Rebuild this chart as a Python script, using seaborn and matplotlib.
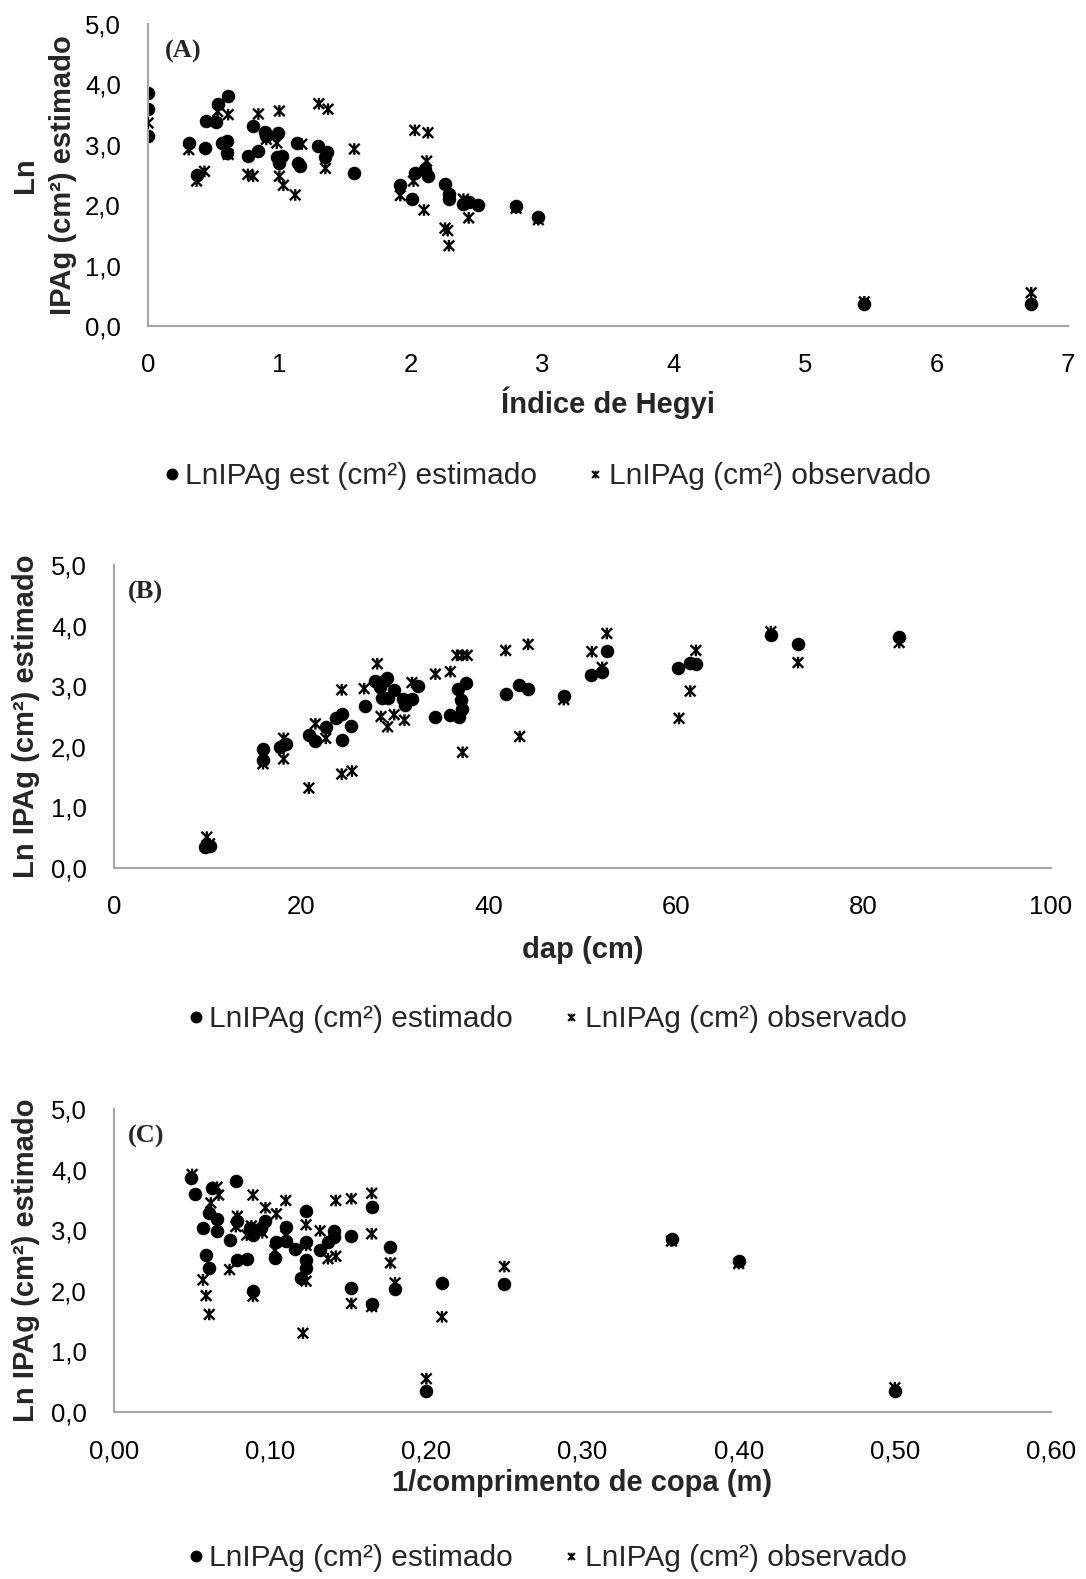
import numpy as np
import pandas as pd
import matplotlib
matplotlib.use("Agg")
import matplotlib.pyplot as plt
from matplotlib.path import Path
from matplotlib.ticker import FixedLocator, FuncFormatter
import seaborn as sns

# ---------------- DATA ----------------
# Panel A: Indice de Hegyi
hegyi_est_x = [0, 0, 0, 0.31, 0.43, 0.37, 0.44, 0.52, 0.53, 0.61, 0.56, 0.60, 0.60,
               0.76, 0.84, 0.80, 0.89, 0.90, 0.99, 0.98, 1.02, 1.00, 1.13, 1.14, 1.16,
               1.29, 1.36, 1.35, 1.57, 1.92, 2.01, 2.03, 2.11, 2.13, 2.26, 2.29, 2.29,
               2.40, 2.44, 2.51, 2.80, 2.97, 5.45, 6.72]
hegyi_est_y = [3.85, 3.59, 3.14, 3.03, 2.95, 2.50, 3.39, 3.37, 3.68, 3.80, 3.03, 3.06, 2.87,
               2.81, 2.90, 3.31, 3.22, 3.14, 3.20, 2.79, 2.81, 2.70, 3.03, 2.70, 2.65,
               2.98, 2.88, 2.79, 2.54, 2.33, 2.10, 2.54, 2.60, 2.48, 2.35, 2.19, 2.11,
               2.02, 2.05, 2.01, 1.98, 1.80, 0.37, 0.37]
hegyi_obs_x = [0, 0.31, 0.37, 0.43, 0.53, 0.61, 0.61, 0.84, 1.00, 0.76, 0.80, 0.90, 0.98,
               1.00, 1.03, 1.12, 1.17, 1.30, 1.37, 1.35, 1.57, 1.92, 2.02, 2.03, 2.13,
               2.12, 2.10, 2.26, 2.28, 2.29, 2.40, 2.44, 2.80, 2.97, 5.45, 6.72]
hegyi_obs_y = [3.36, 2.92, 2.40, 2.56, 3.55, 3.50, 2.84, 3.51, 3.56, 2.51, 2.48, 3.09, 3.03,
               2.48, 2.33, 2.17, 3.01, 3.68, 3.59, 2.61, 2.93, 2.16, 2.40, 3.24, 3.20,
               2.73, 1.92, 1.62, 1.58, 1.33, 2.10, 1.79, 1.95, 1.76, 0.40, 0.55]

# Panel B: dap (cm)
dap_est_x = [9.7, 10.2, 15.9, 15.9, 17.7, 18.4, 20.8, 21.5, 22.6, 23.7, 24.3, 24.3, 25.3,
             26.8, 27.9, 28.4, 28.8, 29.1, 28.6, 29.2, 29.9, 30.8, 31.1, 31.8, 32.4,
             34.3, 35.9, 36.7, 36.8, 37.0, 37.1, 37.6, 41.8, 43.2, 44.2, 48.0, 50.9,
             52.1, 52.6, 60.2, 61.5, 62.1, 70.1, 73.0, 83.8]
dap_est_y = [0.34, 0.36, 1.96, 1.78, 2.00, 2.04, 2.19, 2.09, 2.33, 2.48, 2.54, 2.11, 2.35,
             2.67, 3.09, 2.98, 3.09, 3.13, 2.81, 2.81, 2.94, 2.79, 2.69, 2.79, 3.01,
             2.50, 2.52, 2.96, 2.49, 2.77, 2.63, 3.06, 2.87, 3.02, 2.96, 2.84, 3.18,
             3.24, 3.58, 3.30, 3.38, 3.36, 3.85, 3.69, 3.81]
dap_obs_x = [9.9, 10.2, 15.9, 18.1, 18.1, 20.8, 21.5, 22.6, 24.3, 24.3, 25.4, 26.7, 28.1,
             28.5, 29.2, 29.9, 31.0, 31.8, 34.3, 35.9, 36.6, 37.2, 37.7, 37.2, 41.8,
             44.2, 43.3, 48.0, 51.0, 52.6, 52.1, 60.3, 61.5, 62.1, 70.1, 73.0, 83.8]
dap_obs_y = [0.51, 0.40, 1.72, 2.14, 1.80, 1.32, 2.38, 2.14, 2.94, 1.55, 1.60, 2.96, 3.37,
             2.50, 2.33, 2.53, 2.44, 3.06, 3.20, 3.24, 3.51, 3.51, 3.51, 1.91, 3.59,
             3.69, 2.17, 2.78, 3.57, 3.87, 3.31, 2.47, 2.92, 3.59, 3.90, 3.39, 3.72]

# Panel C: 1/comprimento de copa (m)
copa_est_x = [0.049, 0.052, 0.063, 0.078, 0.061, 0.066, 0.057, 0.066, 0.074, 0.079, 0.087,
              0.089, 0.094, 0.097, 0.104, 0.103, 0.110, 0.110, 0.116, 0.123, 0.123, 0.123,
              0.123, 0.120, 0.132, 0.137, 0.141, 0.141, 0.152, 0.152, 0.165, 0.165, 0.177,
              0.180, 0.059, 0.061, 0.079, 0.085, 0.089, 0.200, 0.210, 0.250, 0.357, 0.400,
              0.500]
copa_est_y = [3.86, 3.60, 3.70, 3.81, 3.28, 3.19, 3.04, 2.99, 2.84, 3.15, 3.03,
              2.92, 3.04, 3.15, 2.81, 2.54, 3.06, 2.83, 2.69, 3.31, 2.81, 2.51,
              2.37, 2.21, 2.67, 2.81, 2.98, 2.88, 2.90, 2.04, 3.39, 1.79, 2.72,
              2.03, 2.59, 2.37, 2.51, 2.53, 1.99, 0.35, 2.13, 2.12, 2.86, 2.50,
              0.35]
copa_obs_x = [0.050, 0.066, 0.067, 0.062, 0.089, 0.097, 0.104, 0.110, 0.079, 0.078, 0.085,
              0.088, 0.095, 0.110, 0.103, 0.123, 0.132, 0.123, 0.142, 0.152, 0.165, 0.165,
              0.137, 0.142, 0.177, 0.180, 0.123, 0.057, 0.059, 0.061, 0.074, 0.121, 0.152,
              0.165, 0.089, 0.200, 0.210, 0.250, 0.357, 0.400, 0.500]
copa_obs_y = [3.92, 3.71, 3.58, 3.45, 3.58, 3.37, 3.27, 3.49, 3.23, 3.06, 2.92,
              3.07, 2.96, 2.91, 2.67, 3.09, 2.99, 2.75, 3.49, 3.52, 3.61, 2.94,
              2.53, 2.57, 2.46, 2.13, 2.16, 2.18, 1.92, 1.61, 2.35, 1.30, 1.79,
              1.74, 1.91, 0.55, 1.57, 2.40, 2.82, 2.45, 0.40]

y_ticks = [0.0, 1.0, 2.0, 3.0, 4.0, 5.0]
hegyi_ticks = [0, 1, 2, 3, 4, 5, 6, 7]
dap_ticks = [0, 20, 40, 60, 80, 100]
copa_ticks = [0.0, 0.1, 0.2, 0.3, 0.4, 0.5, 0.6]

# ---------------- STYLE ----------------
sns.set_theme(style="white")
plt.rcParams['font.family'] = ['Liberation Sans', 'DejaVu Sans']

star_path = Path([(-1, -1), (1, 1), (-1, 1), (1, -1), (0, -1.1), (0, 1.1)],
                 [Path.MOVETO, Path.LINETO, Path.MOVETO, Path.LINETO, Path.MOVETO, Path.LINETO])

W, H = 1086, 1579
fig = plt.figure(figsize=(W / 100, H / 100), dpi=100)

def rect(l, r, t, b):
    return [l / W, 1 - b / H, (r - l) / W, (b - t) / H]

axes_rects = [rect(148, 1068, 24, 326), rect(114, 1051, 565, 868), rect(114, 1051, 1109, 1412)]

panels = [
    dict(ex=hegyi_est_x, ey=hegyi_est_y, ox=hegyi_obs_x, oy=hegyi_obs_y,
         ticks=hegyi_ticks, xlim=(0, 7), fmt=lambda v, p: f"{v:.0f}",
         xlabel="Índice de Hegyi", ylabel="Ln\nIPAg (cm²) estimado", tag="(A)",
         tagpos=(17, 27), xpad=6.5, ypad=6,
         leg1="LnIPAg est (cm²) estimado", leg2="LnIPAg (cm²) observado", legy=476),
    dict(ex=dap_est_x, ey=dap_est_y, ox=dap_obs_x, oy=dap_obs_y,
         ticks=dap_ticks, xlim=(0, 100), fmt=lambda v, p: f"{v:.0f}",
         xlabel="dap (cm)", ylabel="Ln IPAg (cm²) estimado", tag="(B)",
         tagpos=(14, 27), xpad=12, ypad=8,
         leg1="LnIPAg (cm²) estimado", leg2="LnIPAg (cm²) observado", legy=1019),
    dict(ex=copa_est_x, ey=copa_est_y, ox=copa_obs_x, oy=copa_obs_y,
         ticks=copa_ticks, xlim=(0, 0.6), fmt=lambda v, p: f"{v:.2f}".replace('.', ','),
         xlabel="1/comprimento de copa (m)", ylabel="Ln IPAg (cm²) estimado", tag="(C)",
         tagpos=(14, 27), xpad=4, ypad=8,
         leg1="LnIPAg (cm²) estimado", leg2="LnIPAg (cm²) observado", legy=1558),
]

for rc, p in zip(axes_rects, panels):
    ax = fig.add_axes(rc)
    df_e = pd.DataFrame({"x": p["ex"], "y": p["ey"]})
    df_o = pd.DataFrame({"x": p["ox"], "y": p["oy"]})
    sns.scatterplot(data=df_o, x="x", y="y", ax=ax, marker=star_path, s=70,
                    facecolor="none", edgecolor="black", linewidth=1.7, color="black",
                    legend=False, zorder=3)
    sns.scatterplot(data=df_e, x="x", y="y", ax=ax, marker="o", s=95,
                    color="black", edgecolor="black", linewidth=0, legend=False, zorder=2)
    ax.set_xlim(*p["xlim"])
    ax.set_ylim(0, 5)
    ax.xaxis.set_major_locator(FixedLocator(p["ticks"]))
    ax.xaxis.set_major_formatter(FuncFormatter(p["fmt"]))
    ax.yaxis.set_major_locator(FixedLocator(y_ticks))
    ax.yaxis.set_major_formatter(FuncFormatter(lambda v, q: f"{v:.1f}".replace('.', ',')))
    ax.tick_params(axis='both', labelsize=18.5, length=0, pad=19.5, colors="black")
    for s in ["top", "right"]:
        ax.spines[s].set_visible(False)
    for s in ["left", "bottom"]:
        ax.spines[s].set_color("#a6a6a6")
        ax.spines[s].set_linewidth(1.5)
    ax.set_xlabel(p["xlabel"], fontsize=21, fontweight="bold", labelpad=p["xpad"])
    ax.set_ylabel(p["ylabel"], fontsize=21, fontweight="bold", labelpad=p["ypad"],
                  linespacing=1.45)
    bb = ax.get_position()
    tx = p["tagpos"][0] / (bb.width * W)
    ty = 1 - p["tagpos"][1] / (bb.height * H)
    ax.text(tx, ty, p["tag"], transform=ax.transAxes, fontsize=19,
            fontweight="bold", family=["Liberation Serif", "DejaVu Serif"],
            va="center", ha="left")
    h_e = plt.Line2D([], [], marker="o", color="black", linestyle="none", markersize=7.5)
    h_o = plt.Line2D([], [], marker=star_path, color="black", linestyle="none",
                     markersize=5.5, markeredgewidth=1.4, markerfacecolor="none")
    fig.legend([h_e, h_o], [p["leg1"], p["leg2"]], loc="center",
               bbox_to_anchor=(0.502, 1 - p["legy"] / H), ncol=2, frameon=False,
               fontsize=21.5, handletextpad=0.05, columnspacing=1.55, handlelength=0.8)

fig.savefig("out.png", dpi=100)
